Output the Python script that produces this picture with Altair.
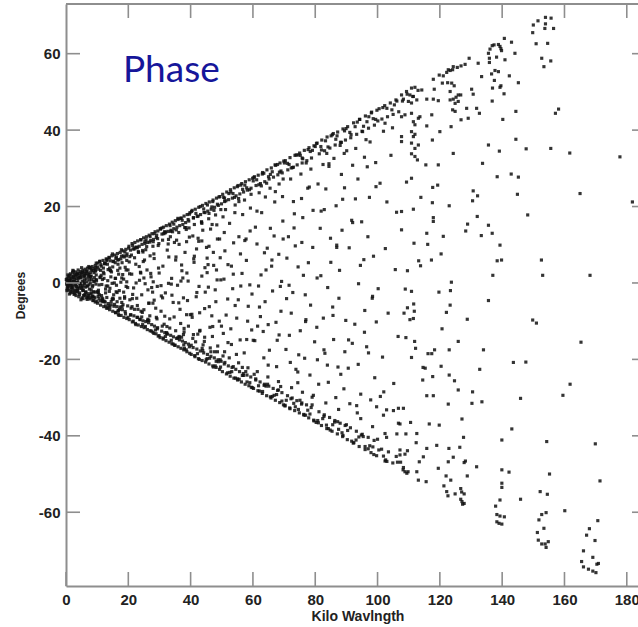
import altair as alt
import pandas as pd

# ---------------- tick values ----------------
x_ticks = [0, 20, 40, 60, 80, 100, 120, 140, 160, 180]
y_ticks = [-60, -40, -20, 0, 20, 40, 60]
top_ticks = [20, 40, 60, 80, 100, 120, 140, 160, 180]
right_ticks = [-60, -40, -20, 0, 20, 40, 60]

# ---------------- data (kilo wavelength, degrees) ----------------
wedge_0_10 = [
    (0.3,0.5),(0.5,-0.8),(0.8,1.6),(1.0,-1.9),(1.2,0.2),(1.4,2.4),(1.5,-2.6),(1.7,1.1),(1.9,-1.2),(2.1,2.8),
    (2.2,-0.4),(2.4,3.1),(2.6,-3.0),(2.7,0.9),(2.9,-2.1),(3.1,1.9),(3.2,-3.3),(3.4,0.1),(3.6,2.6),(3.7,-1.5),
    (3.9,3.4),(4.1,-3.6),(4.2,1.3),(4.4,-2.6),(4.6,3.0),(4.7,-0.7),(4.9,2.2),(5.1,-3.9),(5.2,0.5),(5.4,3.3),
    (5.6,-2.0),(5.7,1.6),(5.9,-3.1),(6.1,3.6),(6.2,-1.1),(6.4,2.4),(6.6,-3.9),(6.7,0.3),(6.9,3.9),(7.1,-2.8),
    (7.2,1.8),(7.4,-0.5),(7.6,4.0),(7.7,-4.2),(7.9,2.7),(8.1,-1.8),(8.2,0.9),(8.4,4.3),(8.6,-3.4),(8.7,3.2),
    (8.9,-4.6),(9.1,1.4),(9.2,-2.4),(9.4,4.6),(9.6,-0.3),(9.7,2.1),(9.9,-4.8),(0.6,2.1),(1.1,-2.9),(2.0,-1.8),
    (3.0,2.9),(3.5,-2.4),(4.5,1.8),(5.0,4.0),(5.5,-4.1),(6.5,1.1),(7.0,-3.6),(8.0,3.6),(8.5,-1.0),(9.0,-3.7),
    (9.5,3.4),(2.5,1.6),(1.8,0.4),(0.9,-0.2),(4.0,-1.0),(6.0,-0.2),(7.5,0.8),(3.3,-0.9),(5.8,2.9),(9.8,0.6),
    (8.8,-2.3),(6.8,-4.3),(0.4,-1.6),(1.3,1.2),(2.3,-2.5),(4.8,-4.4),(7.3,4.3),
]
origin_extra = [
    (0.2,-0.3),(0.4,1.1),(0.7,-1.3),(0.9,0.7),(1.1,2.0),(1.3,-0.6),(1.6,-2.2),(1.9,1.8),(2.1,-1.0),(2.4,0.3),
    (2.6,2.2),(2.8,-2.7),(3.1,-0.3),(3.3,1.2),(3.6,-1.9),(3.8,0.6),(4.1,2.5),(4.3,-3.0),(4.6,-0.2),(4.8,1.5),
    (5.1,-1.4),(5.3,2.8),(5.6,-3.3),(5.8,0.2),(6.1,1.9),(6.3,-2.5),(6.6,3.1),(6.9,-0.8),(7.2,-3.9),(7.4,2.2),
    (7.8,0.0),(8.0,-2.9),(8.3,3.4),(8.6,-0.6),(9.0,2.7),(9.3,-3.9),(9.7,0.9),(10.1,4.2),(10.7,-3.1),(11.3,2.0),
    (11.9,-4.9),(0.1,0.9),(0.3,-2.0),(1.4,0.0),(2.2,3.3),
]
wedge_10_20 = [
    (10.2,5.2),(10.8,5.6),(11.3,4.4),(11.9,5.9),(12.4,5.0),(12.9,6.3),(13.3,4.9),(13.8,6.7),(14.2,5.8),(14.7,7.1),
    (15.1,5.6),(15.6,7.3),(16.0,6.4),(16.5,7.7),(16.9,6.1),(17.4,8.0),(17.8,7.0),(18.3,8.4),(18.7,6.8),(19.2,8.8),
    (19.6,7.6),(10.5,3.6),(12.0,3.9),(13.5,3.5),(15.0,4.2),(16.7,4.9),(18.0,5.3),(19.5,5.9),
    (10.1,-5.3),(10.6,-4.1),(11.1,-5.8),(11.6,-4.6),(12.1,-6.2),(12.6,-5.0),(13.0,-6.6),(13.6,-5.4),(14.0,-7.0),(14.5,-5.7),
    (15.0,-7.4),(15.4,-6.1),(15.9,-7.8),(16.3,-6.2),(16.8,-8.2),(17.2,-6.9),(17.7,-8.5),(18.1,-7.0),(18.6,-9.0),(19.0,-7.5),
    (19.5,-9.3),(11.4,-3.3),(13.1,-3.8),(14.8,-4.3),(16.4,-4.9),(17.9,-5.1),(19.8,-6.0),
    (10.4,-1.9),(10.9,1.4),(11.5,-0.4),(12.2,2.4),(12.7,-2.6),(13.4,0.6),(14.1,-1.4),(14.6,2.9),(15.3,-3.1),(15.8,1.2),
    (16.2,-0.6),(16.6,3.3),(17.1,-2.0),(17.6,0.2),(18.2,2.2),(18.8,-3.6),(19.3,-0.9),(19.9,3.4),(11.7,0.9),(13.9,-2.2),
    (15.5,0.0),(17.3,-4.0),(18.5,1.0),(12.9,-0.8),(14.4,1.6),(16.1,-2.3),(19.0,4.1),
]
wedge_20_30 = [
    (20.2,9.6),(20.7,8.6),(21.2,10.3),(21.6,8.9),(22.1,10.6),(22.6,9.4),(23.0,11.0),(23.5,9.6),(24.0,11.3),(24.4,10.1),
    (24.9,11.8),(25.3,10.3),(25.8,12.1),(26.2,10.6),(26.7,12.5),(27.2,11.1),(27.6,12.9),(28.1,11.4),(28.6,13.4),(29.0,11.9),
    (29.5,13.6),(21.0,7.3),(23.3,8.0),(25.6,8.7),(27.9,9.6),(29.8,10.3),
    (20.3,-9.6),(20.8,-8.3),(21.3,-10.2),(21.8,-8.6),(22.3,-10.6),(22.8,-9.0),(23.2,-11.0),(23.7,-9.5),(24.2,-11.4),(24.7,-9.9),
    (25.1,-11.7),(25.6,-10.1),(26.1,-12.2),(26.5,-10.4),(27.0,-12.5),(27.5,-10.9),(27.9,-12.9),(28.4,-11.3),(28.9,-13.3),(29.4,-11.7),
    (29.9,-13.8),(22.0,-6.9),(24.5,-7.7),(26.9,-8.6),(29.2,-9.4),
    (20.5,-4.4),(21.1,2.3),(21.7,-1.3),(22.4,4.9),(22.9,-5.9),(23.6,0.7),(24.3,-3.1),(24.8,5.6),(25.4,-0.2),(26.0,3.4),
    (26.6,-5.3),(27.3,1.6),(27.8,-2.4),(28.3,6.4),(28.8,-6.6),(29.3,-0.9),(29.7,3.9),(21.4,-3.0),(23.9,2.8),(26.3,-1.8),
    (28.0,0.3),(25.0,-7.0),(22.5,0.0),(27.0,7.1),
]
wedge_30_40 = [
    (30.3,14.2),(30.8,12.8),(31.3,14.6),(31.8,13.1),(32.2,15.0),(32.7,13.5),(33.2,15.4),(33.7,13.8),(34.1,15.9),(34.6,14.2),
    (35.1,16.3),(35.6,14.6),(36.0,16.6),(36.5,15.0),(37.0,17.0),(37.5,15.3),(37.9,17.5),(38.4,15.8),(38.9,17.9),(39.4,16.2),
    (39.8,18.4),(31.0,11.2),(33.5,12.1),(36.2,13.2),(38.6,14.0),
    (30.2,-14.3),(30.7,-12.6),(31.2,-14.7),(31.7,-13.0),(32.1,-15.1),(32.6,-13.4),(33.1,-15.5),(33.6,-13.7),(34.0,-15.9),(34.5,-14.1),
    (35.0,-16.3),(35.5,-14.5),(36.0,-16.7),(36.4,-14.9),(36.9,-17.1),(37.4,-15.2),(37.8,-17.5),(38.3,-15.6),(38.8,-18.0),(39.3,-16.0),
    (39.7,-18.4),(32.4,-11.4),(35.2,-12.5),(37.7,-13.5),
    (30.5,-7.4),(31.1,4.4),(31.9,-2.6),(32.5,8.6),(33.3,-9.4),(33.9,1.2),(34.4,-5.1),(35.3,6.8),(35.8,-0.6),(36.3,10.1),
    (36.8,-10.6),(37.2,3.2),(37.7,-3.9),(38.2,8.0),(38.7,-8.3),(39.2,0.5),(39.6,12.0),(31.5,-10.8),(34.8,10.6),(37.9,-11.9),
    (32.9,-0.1),(36.6,-6.9),(39.0,-4.6),
]
wedge_40_50 = [
    (40.3,18.7),(40.9,17.0),(41.5,19.3),(42.1,17.4),(42.6,19.8),(43.2,17.9),(43.8,20.3),(44.3,18.5),(44.9,20.8),(45.5,18.8),
    (46.0,21.2),(46.6,19.3),(47.2,21.7),(47.7,19.8),(48.3,22.2),(48.9,20.3),(49.4,22.6),(49.9,20.7),(41.2,15.3),(43.5,16.0),
    (45.8,16.8),(48.0,17.8),
    (40.2,-18.7),(40.8,-16.9),(41.4,-19.3),(42.0,-17.3),(42.5,-19.8),(43.1,-17.8),(43.7,-20.3),(44.2,-18.3),(44.8,-20.7),(45.4,-18.7),
    (45.9,-21.2),(46.5,-19.2),(47.1,-21.7),(47.6,-19.6),(48.2,-22.1),(48.8,-20.1),(49.3,-22.6),(49.8,-20.5),(41.6,-15.4),(44.0,-16.2),
    (46.3,-17.0),(48.6,-18.0),
    (40.5,-9.0),(41.0,6.3),(41.8,-3.6),(42.4,11.7),(43.0,-12.4),(43.6,1.8),(44.5,-6.7),(45.1,9.3),(45.7,-1.1),(46.4,14.1),
    (47.0,-14.0),(47.4,4.6),(48.1,-4.9),(48.6,11.5),(49.2,-10.0),(49.7,0.8),(42.9,-7.8),(46.8,-8.6),(44.6,4.0),(40.7,12.3),
    (48.4,15.2),
]
wedge_50_60 = [
    (50.3,23.2),(50.9,21.3),(51.6,23.8),(52.2,21.8),(52.8,24.4),(53.4,22.2),(54.0,24.9),(54.6,22.8),(55.2,25.5),(55.8,23.3),
    (56.4,26.0),(57.0,23.8),(57.6,26.5),(58.2,24.3),(58.8,27.0),(59.4,24.8),(59.9,27.4),(51.2,19.2),(54.3,20.4),(57.3,21.7),
    (50.2,-23.2),(50.8,-21.2),(51.5,-23.8),(52.1,-21.7),(52.7,-24.4),(53.3,-22.1),(53.9,-24.9),(54.5,-22.6),(55.1,-25.4),(55.7,-23.2),
    (56.3,-25.9),(56.9,-23.7),(57.5,-26.5),(58.1,-24.1),(58.7,-26.9),(59.3,-24.6),(59.8,-27.4),(52.4,-19.6),(55.4,-20.9),(58.4,-22.2),
    (50.5,-13.2),(51.0,8.4),(51.9,-4.2),(52.5,15.6),(53.1,-16.1),(53.7,2.3),(54.8,-9.2),(55.5,12.1),(56.1,-0.8),(56.7,17.9),
    (57.2,-18.3),(57.9,5.9),(58.5,-6.1),(59.1,13.6),(59.6,-12.3),(50.7,1.0),(53.5,-1.5),(56.0,7.6),(58.0,-14.8),(54.2,18.4),
]
wedge_60_70 = [
    (60.3,27.6),(61.0,25.5),(61.7,28.2),(62.4,26.0),(63.1,28.9),(63.8,26.5),(64.5,29.6),(65.2,27.2),(65.9,30.1),(66.6,27.7),
    (67.3,30.8),(68.0,28.3),(68.7,31.4),(69.4,28.8),(69.9,31.9),(62.0,23.6),(65.5,24.8),(68.4,25.9),
    (60.2,-27.6),(60.9,-25.4),(61.6,-28.2),(62.3,-25.9),(63.0,-28.9),(63.7,-26.5),(64.4,-29.5),(65.1,-27.0),(65.8,-30.1),(66.5,-27.6),
    (67.2,-30.7),(67.9,-28.1),(68.6,-31.3),(69.3,-28.7),(69.8,-31.9),(61.4,-23.2),(64.8,-24.6),(68.2,-25.8),
    (60.6,-15.1),(61.3,10.2),(62.1,-6.3),(62.8,18.4),(63.5,-19.6),(64.2,3.4),(64.9,-10.9),(65.6,14.3),(66.3,-2.1),(67.0,21.2),
    (67.6,-21.9),(68.3,7.5),(69.0,-7.4),(69.6,16.2),(61.8,-0.8),(63.3,-12.7),(66.1,6.0),(67.8,-15.0),(69.2,0.4),(64.0,22.5),
]
wedge_70_80 = [
    (70.4,32.0),(71.2,29.6),(71.9,32.8),(72.7,30.2),(73.5,33.4),(74.2,30.9),(75.0,34.0),(75.8,31.4),(76.5,34.7),(77.3,32.0),
    (78.0,35.4),(78.8,32.7),(79.6,35.9),(72.1,27.2),(75.4,28.5),(78.6,29.8),
    (70.3,-32.0),(71.1,-29.5),(71.8,-32.7),(72.6,-30.1),(73.4,-33.4),(74.1,-30.8),(74.9,-34.0),(75.7,-31.4),(76.4,-34.6),(77.2,-31.9),
    (77.9,-35.3),(78.7,-32.6),(79.5,-35.9),(72.4,-27.4),(75.9,-28.6),(79.0,-29.9),
    (70.6,-17.4),(71.4,12.1),(72.3,-7.9),(73.0,21.3),(73.8,-22.6),(74.5,4.2),(75.2,-12.5),(76.0,17.1),(76.8,-3.1),(77.6,24.8),
    (78.3,-24.1),(79.2,9.3),(71.6,-0.6),(74.7,-18.8),(77.0,-9.6),(79.8,-15.4),(73.2,14.4),(76.2,2.0),
]
wedge_80_90 = [
    (80.4,36.5),(81.3,33.8),(82.1,37.4),(83.0,34.6),(83.8,38.2),(84.7,35.3),(85.5,38.8),(86.4,36.1),(87.2,39.5),(88.1,36.8),
    (88.9,40.3),(89.7,37.4),(82.5,31.0),(86.0,32.6),(89.3,33.9),
    (80.3,-36.5),(81.2,-33.7),(82.0,-37.3),(82.9,-34.5),(83.7,-38.1),(84.6,-35.2),(85.4,-38.8),(86.3,-36.0),(87.1,-39.5),(88.0,-36.7),
    (88.8,-40.2),(89.6,-37.3),(83.4,-31.4),(87.5,-33.1),
    (80.7,-20.1),(81.6,14.3),(82.6,-9.2),(83.4,24.6),(84.2,-26.0),(85.0,5.4),(85.9,-14.8),(86.7,20.2),(87.6,-4.0),(88.4,28.4),
    (89.2,-27.7),(80.9,25.9),(84.0,-1.2),(86.9,9.9),(89.5,-18.0),(82.8,-17.5),(88.6,13.8),
]
wedge_90_100 = [
    (90.4,40.9),(91.4,38.0),(92.3,41.9),(93.3,38.9),(94.2,42.8),(95.2,39.6),(96.1,43.7),(97.1,40.5),(98.0,44.5),(99.0,41.3),
    (99.8,45.2),(93.0,35.2),(97.6,36.9),
    (90.3,-41.0),(91.3,-37.9),(92.2,-41.9),(93.2,-38.8),(94.1,-42.8),(95.1,-39.6),(96.0,-43.6),(97.0,-40.4),(97.9,-44.4),(98.9,-41.2),
    (99.7,-45.2),(94.6,-35.5),(98.4,-37.6),
    (90.6,-22.3),(91.7,16.4),(92.7,-10.8),(93.7,27.2),(94.6,-29.1),(95.6,6.1),(96.5,-16.7),(97.4,22.4),(98.4,-3.5),(99.4,31.5),
    (91.1,-31.6),(93.9,-0.2),(96.9,12.1),(99.1,-24.8),(92.0,30.8),(95.9,-7.2),
]
wedge_100_107 = [
    (100.5,45.6),(101.4,42.9),(102.3,46.4),(103.2,43.5),(104.1,47.1),(105.0,44.1),(105.9,47.9),(106.8,44.8),(101.9,39.7),(104.8,40.6),
    (100.8,26.1),(101.6,-19.4),(102.5,9.0),(103.4,-7.9),(104.3,33.4),(105.2,-26.3),(106.1,18.5),(100.2,-1.5),(103.0,21.2),(105.7,3.5),
    (106.6,-14.0),(102.0,-28.5),
]
band_upper_extra = [
    (3.3,2.2),(4.6,1.4),(6.8,3.1),(8.1,1.8),(9.7,5.2),(11.2,4.8),(12.0,2.8),(13.9,6.6),(15.3,5.7),(16.2,6.8),
    (17.8,8.7),(19.4,7.1),(20.1,9.1),(21.9,8.9),(23.2,8.2),(24.0,11.3),(25.7,11.3),(26.9,10.7),(28.3,12.9),(29.1,12.5),
    (30.8,14.4),(31.6,13.4),(33.4,15.0),(34.2,13.4),(35.9,16.9),(37.3,16.4),(38.1,14.5),(39.6,18.0),(40.9,17.1),(41.7,18.2),
    (43.1,20.0),(44.6,18.4),(45.4,20.4),(46.8,19.9),(47.5,19.0),(49.1,22.5),(50.6,22.4),(51.3,21.5),(52.9,23.8),(53.6,23.4),
    (55.0,25.2),(56.7,24.5),(57.4,25.6),(58.9,24.4),(60.5,27.8),(61.2,27.0),(62.7,25.4),(63.5,28.7),(65.0,27.8),(66.2,29.1),
    (67.9,31.0),(68.5,29.0),(70.1,31.4),(71.6,31.0),(72.3,30.1),(73.9,33.5),(75.2,33.4),(76.0,32.5),(77.7,34.9),(79.1,34.7),
    (80.6,36.6),(81.8,35.7),(83.3,37.2),(84.1,35.6),(85.8,39.1),(87.0,38.5),(88.4,36.8),(89.9,40.4),(91.1,39.4),(92.8,40.9),
    (94.3,42.8),(95.5,41.0),(97.2,43.5),(98.6,43.0),(100.1,42.4),(101.7,45.9),(103.0,45.7),(104.6,45.3),(106.2,47.6),(108.0,47.6),
    (109.5,49.4),(111.3,48.8),(113.0,50.4),
]
band_upper_extra2 = [
    (5.8,1.9),(7.7,4.0),(9.0,3.8),(10.9,5.7),(12.4,5.1),(13.2,6.2),(14.9,7.6),(16.6,6.0),(17.3,3.9),(18.9,8.1),
    (20.5,6.9),(21.4,9.8),(22.9,9.2),(24.7,8.1),(25.3,10.8),(27.0,12.1),(28.0,10.8),(29.6,9.8),(30.3,14.1),(32.0,13.3),
    (32.9,11.4),(34.6,15.4),(35.4,13.9),(36.8,16.9),(38.5,14.5),(39.2,16.6),(40.5,19.0),(42.4,17.5),(43.6,15.6),(44.2,19.4),
    (45.9,18.2),(47.1,21.3),(48.6,20.6),(49.7,19.2),(50.9,22.2),(52.3,23.4),(54.1,22.4),(55.5,21.3),(56.1,25.6),(58.0,24.9),
    (59.4,23.2),(60.1,26.7),(61.9,25.7),(63.0,28.5),(64.4,26.1),(65.6,28.4),(67.1,30.9),(69.0,29.3),(69.7,27.2),(71.1,31.3),
    (73.0,30.3),(74.5,33.5),(75.8,32.7),(77.1,31.4),(78.4,34.4),(80.0,35.7),(82.0,34.8),(83.7,33.9),(85.1,38.5),(86.6,37.6),
    (88.0,36.0),(89.4,39.8),(91.5,38.8),(93.5,42.1),(95.0,39.7),(96.6,42.2),(98.1,44.7),(99.4,42.8),(102.4,41.8),(105.4,46.6),
]
band_lower_extra = [
    (3.8,-2.2),(5.2,-1.1),(7.3,-3.3),(8.6,-4.6),(10.4,-2.6),(11.8,-4.7),(12.7,-6.0),(14.5,-4.9),(15.9,-7.7),(16.8,-7.2),
    (18.3,-5.7),(19.9,-9.0),(20.7,-8.4),(22.4,-10.9),(23.8,-9.6),(24.6,-10.9),(26.2,-9.8),(27.4,-12.6),(28.7,-12.3),(29.6,-13.9),
    (31.2,-14.4),(32.3,-13.2),(33.8,-15.0),(34.9,-16.3),(36.3,-14.2),(37.8,-16.2),(38.6,-17.5),(40.2,-16.3),(41.3,-19.0),(42.2,-18.5),
    (43.7,-17.1),(45.0,-20.1),(46.1,-19.7),(47.3,-22.0),(48.2,-20.5),(49.6,-22.0),(51.0,-20.8),(51.9,-23.5),(53.2,-23.2),(54.4,-24.9),
    (55.6,-25.2),(57.0,-24.2),(58.1,-25.9),(59.5,-27.3),(60.9,-25.1),(61.8,-26.9),(63.1,-28.4),(64.2,-27.0),(65.6,-29.8),(66.8,-29.4),
    (68.2,-28.0),(69.3,-30.9),(70.7,-30.7),(71.9,-32.9),(73.1,-31.5),(74.6,-33.1),(75.6,-31.7),(76.9,-34.6),(78.3,-34.3),(79.6,-36.1),
    (81.0,-36.6),(82.4,-35.5),(83.6,-37.2),(84.8,-38.5),(86.2,-36.4),(87.5,-38.3),(88.9,-39.9),(90.4,-38.6),(91.7,-41.4),(93.1,-41.1),
    (94.8,-39.8),(96.0,-42.8),(97.5,-42.6),(98.8,-44.9),(100.4,-43.7),(101.9,-45.3),(103.5,-44.2),(104.9,-47.1),(106.4,-46.9),(108.2,-48.9),
    (109.8,-49.4),
]
band_lower_extra2 = [
    (6.2,-3.2),(8.1,-2.6),(9.4,-5.0),(11.0,-4.7),(12.3,-4.8),(13.4,-6.6),(14.1,-6.3),(15.6,-5.6),(17.0,-8.5),(18.0,-6.2),
    (19.1,-8.1),(20.9,-6.6),(21.6,-10.0),(23.0,-9.0),(24.1,-7.4),(25.5,-11.4),(26.6,-9.8),(28.2,-13.2),(29.3,-12.0),(30.9,-11.3),
    (31.9,-14.0),(33.3,-11.8),(34.4,-16.0),(35.8,-14.4),(37.1,-14.2),(38.0,-17.1),(39.6,-16.7),(40.7,-14.5),(42.8,-20.0),(43.9,-17.7),
    (45.3,-19.8),(46.5,-18.0),(47.9,-21.7),(48.9,-20.6),(50.4,-19.1),(52.6,-23.4),(53.7,-21.9),(55.0,-25.1),(56.6,-24.2),(57.7,-23.2),
    (59.0,-26.1),(60.4,-23.9),(62.1,-28.3),(63.6,-26.8),(64.7,-26.5),(66.2,-29.7),(67.6,-29.2),(68.9,-27.1),(70.3,-32.2),(72.2,-30.3),
    (73.6,-32.4),(75.1,-30.7),(76.3,-34.4),(77.6,-33.3),(79.0,-31.9),(80.8,-36.0),(82.8,-34.9),(84.2,-38.1),(85.6,-37.1),(87.2,-36.3),
    (88.6,-39.2),(90.0,-37.1),(92.4,-41.8),(94.0,-40.3),(95.4,-40.2),(97.0,-43.4),(98.5,-42.9),(100.0,-40.9),(103.0,-46.7),(106.0,-45.4),
]
inner_extra_0_20 = [
    (0.7,-0.9),(1.2,0.5),(1.6,-0.5),(2.3,1.4),(2.8,-1.8),(3.4,0.1),(3.9,1.4),(4.3,-1.4),(5.0,2.6),(5.5,-0.6),
    (5.9,0.8),(6.4,-2.3),(7.0,2.5),(7.5,-1.6),(7.9,1.7),(8.5,-3.6),(9.1,0.5),(9.6,4.0),(10.0,-2.3),(10.6,-0.5),
    (11.1,3.3),(11.6,-4.0),(12.2,1.2),(12.7,-1.6),(13.1,5.9),(13.7,-6.0),(14.3,3.2),(14.8,-0.1),(15.2,-4.2),(15.8,5.3),
    (16.4,-2.5),(16.9,2.3),(17.3,-6.3),(17.9,1.3),(18.4,7.1),(18.8,-4.0),(19.3,3.4),(19.8,-1.2),(10.3,-3.5),(14.0,3.9),
]
inner_extra_0_50b = [
    (1.0,0.7),(1.8,-1.3),(2.6,0.4),(3.1,-0.8),(3.7,2.2),(4.4,-0.1),(5.3,-1.9),(6.0,2.4),(6.7,-0.8),(7.4,1.5),
    (8.2,-3.8),(8.9,0.4),(9.5,3.1),(10.2,-2.4),(11.0,1.6),(11.8,-4.2),(12.6,5.2),(13.4,-0.8),(14.2,3.3),(15.0,-4.0),
    (15.9,1.2),(16.7,-7.4),(17.6,6.3),(18.5,-2.4),(19.5,0.3),(20.3,5.5),(21.3,-4.1),(22.2,9.2),(23.1,-6.9),(24.0,2.6),
    (25.2,6.0),(26.3,-9.5),(27.2,2.5),(28.3,-4.5),(29.4,11.6),(30.5,-0.7),(31.7,-8.7),(32.8,10.2),(34.0,-3.2),(35.2,6.0),
    (36.3,-14.0),(37.5,1.3),(38.7,10.8),(39.9,-8.3),(41.1,5.4),(42.3,-13.4),(43.5,15.9),(44.7,-2.4),(45.9,9.6),(47.1,-11.4),
    (48.3,3.4),(49.5,-20.1),(24.6,8.5),(31.0,-3.9),(36.9,0.5),(42.6,10.9),(27.9,-5.3),(33.6,13.5),(39.3,-11.3),(45.6,4.8),
]
inner_extra_20_50 = [
    (20.4,2.4),(21.2,-6.2),(22.0,6.6),(22.7,-4.0),(23.5,4.3),(24.3,-8.9),(25.0,1.3),(25.9,9.5),(26.6,-5.3),(27.5,-1.2),
    (28.2,7.6),(29.0,-9.0),(29.9,2.6),(30.6,-3.4),(31.4,12.9),(32.3,-13.0),(33.0,6.8),(33.8,-0.3),(34.7,-8.9),(35.5,11.2),
    (36.2,-5.2),(37.1,4.7),(37.9,-12.8),(38.8,2.6),(39.5,14.4),(40.4,-8.2),(41.2,7.0),(42.0,-2.5),(42.9,-12.6),(43.6,11.0),
    (44.5,-14.2),(45.3,6.5),(46.0,-6.2),(46.9,15.3),(47.7,-18.0),(48.5,0.8),(49.3,11.5),(49.9,-11.3),
]
inner_extra_50_100 = [
    (50.8,13.2),(52.0,-15.6),(53.1,4.4),(54.3,-5.9),(55.4,22.1),(56.6,-22.1),(57.8,11.5),(59.0,-0.5),(60.1,-15.0),(61.3,18.8),
    (62.4,-8.8),(63.7,7.9),(64.9,-21.5),(66.0,4.4),(67.2,23.9),(68.4,-13.6),(69.7,11.5),(70.8,-4.1),(72.0,-20.8),(73.3,18.1),
    (74.4,-23.3),(75.7,10.6),(76.9,-10.1),(78.1,25.1),(79.4,-29.4),(80.6,1.3),(81.9,18.8),(83.1,-18.4),(84.4,31.2),(85.6,-6.3),
    (86.9,9.3),(88.2,-23.9),(89.4,24.9),(90.7,-14.9),(92.0,15.8),(93.3,-32.1),(94.5,4.6),(95.8,32.9),(97.1,-18.3),(98.3,-4.0),
    (99.5,25.2),(100.9,-29.7),
]
wedge_inner_40_60 = [
    (40.9,-13.5),(41.9,8.9),(42.7,-0.9),(43.9,13.8),(44.4,-15.3),(45.3,2.7),(46.2,-11.6),(47.3,8.0),(47.9,-1.8),(48.7,-16.5),
    (49.5,6.6),(50.4,17.3),(51.4,-8.4),(52.0,4.8),(52.9,-12.0),(53.8,10.5),(54.7,-18.7),(55.3,-4.4),(56.5,2.5),(57.4,11.1),
    (58.3,-10.0),(59.2,19.6),(59.7,-2.9),(50.9,-18.0),(55.9,-14.9),
]
wedge_inner_60_100 = [
    (60.8,14.6),(61.5,-11.3),(62.6,2.1),(63.9,-4.9),(64.6,9.1),(65.3,-17.6),(66.8,12.3),(67.4,-10.3),(68.8,-0.9),(69.5,22.6),
    (70.9,6.5),(71.7,-13.7),(72.8,-2.5),(73.6,9.7),(74.4,-26.1),(75.6,22.1),(76.6,-19.7),(77.8,5.3),(78.5,-5.8),(79.3,19.0),
    (80.5,-11.6),(81.8,1.9),(82.9,19.2),(83.9,-21.5),(84.9,11.7),(85.7,-8.5),(86.6,-30.0),(87.8,3.3),(88.8,21.9),(89.8,-9.8),
    (90.9,9.2),(91.9,-15.8),(92.9,22.0),(93.8,-21.3),(94.9,16.0),(95.8,-12.9),(96.7,30.4),(97.8,-30.6),(98.7,7.0),(99.6,-10.2),
    (81.1,-26.5),(84.4,30.5),(87.3,-22.0),(90.1,34.6),(93.5,-34.0),(96.3,37.5),
]
outer_upper = [
    (153.9,69.5),(155.7,69.3),(151.5,68.6),(150.0,67.5),(153.9,67.8),(153.7,66.6),(156.5,66.6),(149.8,65.5),(150.9,62.6),(154.6,62.7),
    (152.7,58.8),(155.6,58.1),(153.4,56.6),(140.7,64.0),(143.0,63.0),(137.4,62.3),(138.8,62.4),(139.3,61.9),(139.6,61.3),(136.8,62.1),
    (136.1,61.2),(135.6,60.1),(135.9,58.8),(138.2,59.1),(140.9,58.4),(144.1,60.1),(135.9,57.7),(139.8,60.8),(129.4,58.8),(128.1,57.2),
    (132.3,57.5),(126.8,56.8),(125.6,56.4),(124.3,56.6),(124.1,55.8),(123.3,55.6),(122.2,55.1),(122.7,55.8),(119.8,54.4),(121.1,54.2),
    (117.9,53.3),(120.8,52.3),(122.5,52.4),(123.8,52.3),(124.6,51.6),(123.3,50.1),(125.9,49.2),(126.7,49.2),(125.2,48.6),(124.3,48.1),
    (123.3,47.9),(124.9,47.0),(125.9,47.5),(124.1,45.3),(124.9,44.9),(128.6,45.7),(131.8,45.7),(132.7,44.4),(126.8,42.7),(129.1,43.1),
    (130.2,50.7),(130.7,49.4),(133.4,54.0),(136.6,54.7),(137.7,55.6),(138.8,55.3),(137.5,53.0),(139.6,51.6),(139.3,51.2),(136.9,51.0),
    (140.6,49.5),(142.3,54.2),(145.2,52.4),(136.8,47.6),(144.4,44.9),(140.2,42.8),(135.6,36.1),(139.1,34.5),(144.4,37.6),(147.7,35.1),
    (155.6,35.2),(161.7,34.0),(157.1,44.4),(158.1,45.5),(177.8,33.0),(165.0,23.4),(181.8,21.2),
    (107.7,49.2),(109.3,50.1),(110.9,51.0),(112.0,51.2),(110.4,49.2),(111.5,48.8),(108.3,48.1),(109.9,47.5),(110.9,47.1),(112.6,47.9),
    (114.2,50.5),(115.8,48.1),(117.9,48.1),(118.2,50.7),(119.5,47.7),(117.4,44.0),(115.8,41.1),(113.6,43.5),(113.1,43.1),(110.9,44.4),
    (108.8,44.0),(107.7,43.5),(111.5,42.2),(112.0,41.4),(110.9,39.6),(112.0,38.9),(111.5,38.3),(107.7,38.3),(107.7,37.0),(110.9,36.6),
    (113.1,36.1),(112.0,35.2),(110.9,33.8),(112.0,33.1),(112.8,32.2),(115.5,30.9),(119.5,30.9),(124.3,33.9),(120.0,39.6),(117.6,37.4),
    (123.6,40.9),(133.7,31.3),(138.4,27.8),(142.9,28.5),(145.2,27.7),(144.9,23.2),(148.2,17.8),(132.1,22.8),(130.7,24.1),(130.5,21.5),
    (123.0,20.2),(117.6,21.0),(113.9,22.4),(111.5,19.3),(107.7,18.7),(117.9,17.1),(117.9,16.1),(107.7,13.9),(132.0,17.4),(128.9,15.4),
    (135.6,15.1),(128.3,13.6),(136.8,13.0),(133.3,12.4),(121.1,12.2),(115.8,13.0),(111.7,10.4),(116.1,10.1),(139.3,9.9),(110.9,27.4),
    (109.3,26.4),(117.7,25.0),(119.3,25.6),
]
outer_middle = [
    (120.4,7.6),(113.2,5.8),(117.3,6.0),(113.8,4.5),(109.6,3.2),(138.4,5.8),(139.8,6.0),(152.6,6.0),(137.0,2.0),(153.0,2.0),
    (168.2,2.0),(123.7,0.2),(108.9,-1.6),(110.9,-2.2),(119.7,-2.4),(123.4,-2.0),(135.6,-4.6),(111.6,-5.5),(123.3,-5.8),(109.6,-6.5),
    (111.8,-7.4),(108.5,-7.9),(122.1,-7.7),(111.5,-9.3),(110.4,-9.6),(128.8,-9.5),(149.8,-9.7),(151.0,-10.5),(120.7,-12.0),(109.1,-14.3),
    (111.9,-15.3),(125.9,-15.3),(165.3,-15.5),(112.2,-17.1),(118.3,-17.5),(116.2,-18.5),(117.4,-18.5),(123.0,-17.5),(134.0,-17.5),(110.9,-19.5),
    (143.6,-20.8),(147.6,-20.7),(120.4,-21.8),(114.6,-22.1),(115.3,-22.3),(132.8,-22.6),(123.0,-24.1),(117.7,-24.5),(114.5,-25.4),(124.7,-25.6),
    (125.9,-28.0),(161.8,-26.5),(130.5,-28.5),(159.5,-29.4),(145.9,-30.2),(115.8,-29.5),(117.9,-29.5),
]
outer_lower = [
    (122.7,-31.7),(130.3,-31.5),(133.5,-31.1),(99.7,-32.4),(102.9,-33.2),(105.1,-33.4),(106.7,-32.8),(108.3,-32.8),(101.9,-34.6),(106.7,-36.7),
    (107.2,-36.9),(110.6,-36.5),(116.6,-36.9),(119.8,-37.2),(127.1,-35.6),(143.1,-38.2),(112.6,-39.4),(109.1,-39.5),(106.2,-39.5),(102.9,-40.4),
    (102.4,-39.4),(112.4,-41.8),(119.0,-42.5),(127.6,-40.4),(139.9,-41.1),(154.3,-41.5),(169.9,-42.1),(115.8,-43.3),(122.9,-43.3),(126.4,-43.0),
    (101.3,-43.5),(107.2,-43.7),(109.6,-43.9),(108.8,-44.8),(107.2,-45.0),(114.7,-45.5),(113.4,-46.8),(122.7,-46.8),(124.3,-45.6),(127.8,-47.0),
    (128.2,-46.6),(119.5,-48.5),(131.8,-48.1),(102.4,-46.6),(102.6,-46.3),(107.4,-46.9),(108.3,-48.3),(108.8,-49.4),(109.4,-49.8),(112.6,-49.4),
    (113.1,-51.6),(115.6,-52.0),(122.0,-50.5),(123.5,-51.6),(128.8,-50.5),(121.3,-53.1),(122.2,-54.6),(122.6,-55.7),(124.9,-55.2),(126.7,-53.8),
    (127.0,-54.7),(127.8,-55.2),(126.7,-56.6),(127.1,-57.2),(127.8,-57.7),(127.3,-57.9),(139.9,-48.9),(142.2,-49.5),(139.9,-52.4),(139.9,-53.5),
    (145.9,-56.6),(139.3,-56.8),(137.9,-58.4),(138.3,-60.6),(139.3,-61.0),(140.7,-61.2),(138.3,-62.5),(139.0,-62.9),(139.9,-63.1),(152.2,-54.6),
    (154.5,-55.3),(155.2,-50.0),(160.1,-59.6),(154.1,-60.1),(152.7,-60.6),(151.8,-62.0),(153.4,-64.2),(151.3,-65.3),(151.6,-67.3),(152.7,-68.3),
    (153.8,-68.3),(154.8,-67.7),(154.1,-69.2),(171.4,-51.8),(170.7,-62.2),(168.0,-64.3),(167.1,-66.0),(169.8,-67.4),(166.1,-70.1),(169.1,-71.8),
    (170.4,-73.6),(170.9,-73.4),(165.5,-72.9),(166.1,-74.3),(167.7,-74.9),(169.1,-75.4),(170.1,-75.8),
]

all_points = (wedge_0_10 + origin_extra + wedge_10_20 + wedge_20_30 + wedge_30_40 + wedge_40_50
              + wedge_50_60 + wedge_60_70 + wedge_70_80 + wedge_80_90 + wedge_90_100 + wedge_100_107
              + band_upper_extra + band_upper_extra2 + band_lower_extra + band_lower_extra2
              + inner_extra_0_20 + inner_extra_0_50b + inner_extra_20_50
              + inner_extra_50_100 + wedge_inner_40_60 + wedge_inner_60_100
              + outer_upper + outer_middle + outer_lower)
df = pd.DataFrame(all_points, columns=["kw", "deg"])

# ---------------- chart ----------------
W, H = 572, 582
GRAY = "#8e8e8e"
TXT = "#222222"
FONT = "Liberation Sans"
xs = alt.Scale(domain=[0, 183.6], nice=False, zero=False)
ys = alt.Scale(domain=[-79.3, 73.0], nice=False, zero=False)

x_axis = alt.Axis(
    title="Kilo Wavlngth", values=x_ticks, ticks=False, tickSize=0, labelPadding=6,
    labelExpr="'' + datum.value", labelFlush=False,
    labelFont=FONT, labelFontSize=15, labelFontWeight="bold", labelColor=TXT,
    titleFont=FONT, titleFontSize=14, titleFontWeight="bold", titleColor=TXT,
    titleBaseline="alphabetic", titleY=34.5, titleX=291.5, titleAlign="center",
    domainColor=GRAY, domainWidth=2, grid=False)
y_axis = alt.Axis(
    title="Degrees", values=y_ticks, ticks=False, tickSize=0, labelPadding=6,
    labelExpr="'' + datum.value", labelFlush=False,
    labelFont=FONT, labelFontSize=15, labelFontWeight="bold", labelColor=TXT,
    titleFont=FONT, titleFontSize=12, titleFontWeight="bold", titleColor=TXT,
    titleBaseline="alphabetic", titleX=-42,
    domainColor=GRAY, domainWidth=2, grid=False)

points = alt.Chart(df).mark_square(size=10, color="#111111", opacity=0.85).encode(
    x=alt.X("kw:Q", scale=xs, axis=x_axis),
    y=alt.Y("deg:Q", scale=ys, axis=y_axis),
)

bottom_ticks = alt.Chart(pd.DataFrame({"kw": x_ticks})).mark_rule(color=GRAY, strokeWidth=1.6).encode(
    x=alt.X("kw:Q", scale=xs, axis=x_axis), y=alt.value(H), y2=alt.value(H - 14))
top_tick_marks = alt.Chart(pd.DataFrame({"kw": top_ticks})).mark_rule(color=GRAY, strokeWidth=1.6).encode(
    x=alt.X("kw:Q", scale=xs, axis=x_axis), y=alt.value(0), y2=alt.value(14))
left_ticks = alt.Chart(pd.DataFrame({"deg": y_ticks})).mark_rule(color=GRAY, strokeWidth=1.6).encode(
    y=alt.Y("deg:Q", scale=ys, axis=y_axis), x=alt.value(0), x2=alt.value(14))
right_tick_marks = alt.Chart(pd.DataFrame({"deg": right_ticks})).mark_rule(color=GRAY, strokeWidth=1.6).encode(
    y=alt.Y("deg:Q", scale=ys, axis=y_axis), x=alt.value(W - 6), x2=alt.value(W))
top_line = alt.Chart(pd.DataFrame({"v": [0]})).mark_rule(color=GRAY, strokeWidth=2).encode(
    y=alt.value(0), x=alt.value(0), x2=alt.value(W))

label = alt.Chart(pd.DataFrame({"t": ["Phase"]})).mark_text(
    font="Lato", fontSize=37, color="#16169a", align="left", baseline="alphabetic"
).encode(x=alt.value(57), y=alt.value(77.7), text="t:N")

chart = alt.layer(
    points, bottom_ticks, top_tick_marks, left_ticks, right_tick_marks, top_line, label
).properties(
    width=W, height=H,
    autosize=alt.AutoSizeParams(type="none"),
    padding={"left": 66, "top": 4, "right": 0, "bottom": 41},
    background="white",
).configure_view(stroke=None)

chart.save("out.html", embed_options={"renderer": "svg", "actions": False})
